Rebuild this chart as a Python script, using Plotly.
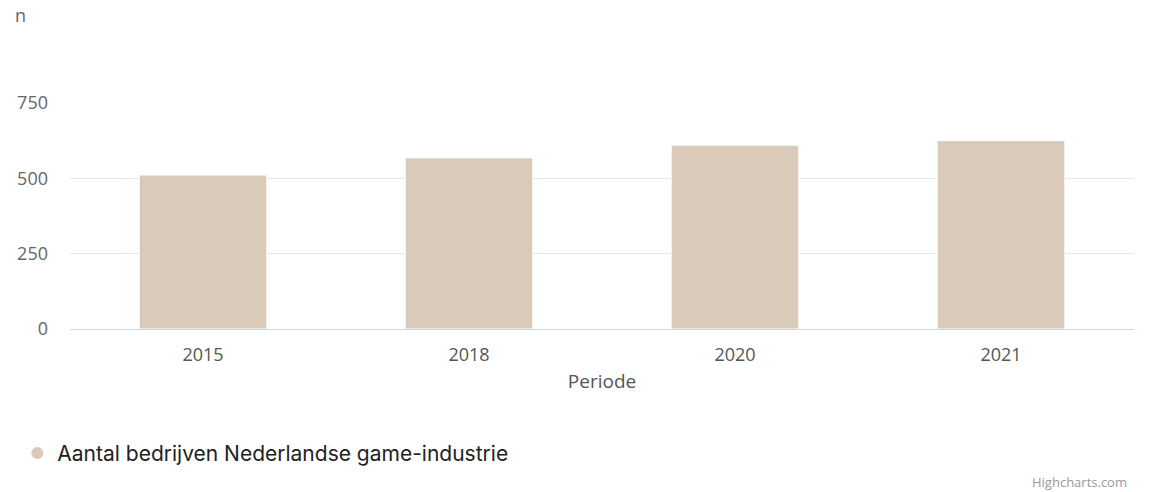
import plotly.graph_objects as go

# Aantal bedrijven in de Nederlandse game-industrie per periode
periodes = ["2015", "2018", "2020", "2021"]
aantal_bedrijven = [511, 568, 610, 625]
y_ticks = [0, 250, 500, 750]
reeks_naam = "Aantal bedrijven Nederlandse game-industrie"

bar_kleur = "#dacab9"

fig = go.Figure()
fig.add_trace(go.Bar(
    x=periodes,
    y=aantal_bedrijven,
    name=reeks_naam,
    marker=dict(color=bar_kleur, line=dict(color="#ffffff", width=1)),
    width=0.48,
    showlegend=False,
    hoverinfo="x+y",
))
# Legend entry with a round symbol
fig.add_trace(go.Scatter(
    x=[None], y=[None],
    mode="markers",
    name=reeks_naam,
    marker=dict(color=bar_kleur, size=15, symbol="circle"),
    showlegend=True,
))

fig.update_layout(
    width=1150,
    height=492,
    margin=dict(l=70, r=16, t=103, b=163, autoexpand=False),
    paper_bgcolor="#ffffff",
    plot_bgcolor="#ffffff",
    font=dict(family="Open Sans, sans-serif", color="#666666", size=18),
    bargap=0.52,
    showlegend=True,
    legend=dict(
        orientation="h",
        x=-0.0495, xanchor="left",
        y=-0.55, yanchor="middle",
        font=dict(family="Inter, sans-serif", size=21, color="#222222"),
        itemsizing="constant",
        bgcolor="rgba(0,0,0,0)",
    ),
    xaxis=dict(
        type="category",
        automargin=False,
        showline=True,
        linecolor="#ccd6eb",
        linewidth=1,
        showgrid=False,
        ticks="",
        ticklabelstandoff=9,
        tickfont=dict(size=18, color="#555555"),
        title=dict(text="Periode", font=dict(size=19, color="#555555"), standoff=10),
    ),
    yaxis=dict(
        automargin=False,
        range=[0, 750],
        tickvals=y_ticks,
        showgrid=True,
        gridcolor="#e6e6e6",
        gridwidth=1,
        zeroline=False,
        showline=False,
        ticks="",
        ticklabelstandoff=21,
        tickfont=dict(size=18, color="#666666"),
    ),
    annotations=[
        dict(text="n", xref="paper", yref="paper", x=-0.05, y=1.0,
             xanchor="center", yanchor="bottom", yshift=74, xshift=4, showarrow=False,
             font=dict(size=18, color="#666666")),
        dict(text="Highcharts.com", xref="paper", yref="paper", x=1.0, y=0,
             xanchor="right", yanchor="middle", yshift=-153, xshift=-6,
             borderpad=0, showarrow=False,
             font=dict(size=13, color="#999999")),
    ],
)

fig.write_html("out.html")
